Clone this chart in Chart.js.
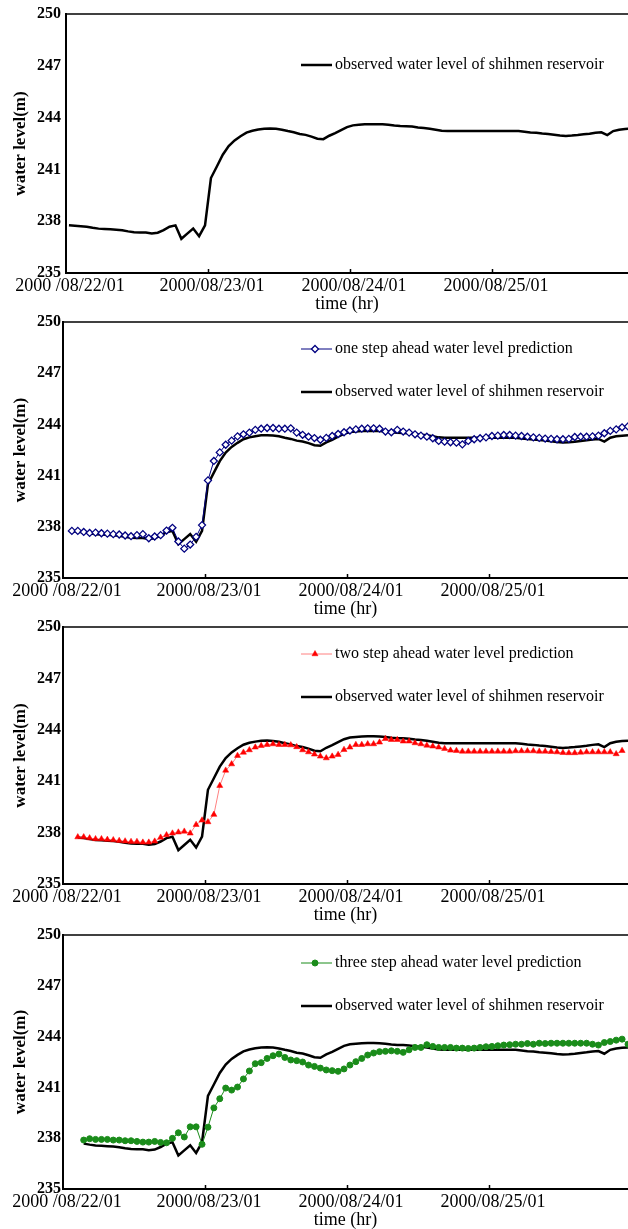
<!DOCTYPE html>
<html>
<head>
<meta charset="utf-8">
<script src="https://cdn.jsdelivr.net/npm/chart.js@4.4.1/dist/chart.umd.min.js"></script>
<style>
  body { margin: 0; background: #fff; width: 628px; height: 1229px; position: relative; overflow: hidden; }
  canvas { position: absolute; left: 0; }
</style>
</head>
<body>
<canvas id="panel1"></canvas>
<canvas id="panel2"></canvas>
<canvas id="panel3"></canvas>
<canvas id="panel4"></canvas>
<script>
// hourly series, first value sits at the given hour (0 = 2000/08/22/01)
const observedStart = 0.5;
const observed = [
  237.76, 237.74, 237.71, 237.68, 237.62, 237.57, 237.55, 237.53, 237.51, 237.47,
  237.41, 237.36, 237.35, 237.35, 237.29, 237.33, 237.48, 237.68, 237.76, 236.98,
  237.28, 237.58, 237.13, 237.76, 240.50, 241.17, 241.85, 242.35, 242.68, 242.92,
  243.13, 243.24, 243.31, 243.36, 243.37, 243.35, 243.30, 243.22, 243.15, 243.05,
  243.00, 242.90, 242.78, 242.75, 242.95, 243.10, 243.28, 243.45, 243.55, 243.58,
  243.61, 243.62, 243.62, 243.61, 243.58, 243.54, 243.51, 243.50, 243.48, 243.43,
  243.40, 243.36, 243.30, 243.24, 243.22, 243.22, 243.22, 243.22, 243.22, 243.22,
  243.22, 243.22, 243.22, 243.22, 243.22, 243.22, 243.22, 243.18, 243.14, 243.12,
  243.08, 243.05, 243.01, 242.97, 242.94, 242.96, 242.99, 243.03, 243.07, 243.12,
  243.15, 242.99, 243.22, 243.30, 243.34, 243.36
];

const oneStepStart = 1.5;
const oneStep = [
  237.76, 237.76, 237.70, 237.64, 237.66, 237.62, 237.60, 237.57, 237.55, 237.49,
  237.45, 237.51, 237.57, 237.33, 237.43, 237.51, 237.78, 237.94, 237.14, 236.72,
  236.96, 237.41, 238.10, 240.72, 241.86, 242.36, 242.81, 243.05, 243.30, 243.42,
  243.52, 243.68, 243.75, 243.79, 243.79, 243.75, 243.75, 243.77, 243.52, 243.39,
  243.28, 243.20, 243.10, 243.21, 243.32, 243.44, 243.54, 243.64, 243.71, 243.75,
  243.77, 243.77, 243.75, 243.58, 243.54, 243.68, 243.58, 243.52, 243.42, 243.34,
  243.28, 243.19, 243.03, 242.99, 242.95, 242.93, 242.83, 243.03, 243.13, 243.19,
  243.24, 243.32, 243.34, 243.38, 243.38, 243.34, 243.32, 243.28, 243.24, 243.21,
  243.17, 243.15, 243.13, 243.13, 243.15, 243.26, 243.28, 243.28, 243.30, 243.34,
  243.48, 243.62, 243.71, 243.83, 243.88
];

const twoStepStart = 2.5;
const twoStep = [
  237.74, 237.74, 237.68, 237.63, 237.63, 237.59, 237.57, 237.53, 237.50, 237.47,
  237.47, 237.43, 237.43, 237.49, 237.72, 237.86, 237.96, 238.02, 238.07, 237.96,
  238.46, 238.72, 238.62, 239.05, 240.74, 241.63, 242.00, 242.49, 242.68, 242.82,
  242.98, 243.07, 243.13, 243.17, 243.13, 243.13, 243.11, 243.00, 242.82, 242.70,
  242.57, 242.45, 242.35, 242.45, 242.55, 242.84, 242.98, 243.13, 243.13, 243.17,
  243.17, 243.27, 243.48, 243.42, 243.42, 243.33, 243.33, 243.23, 243.17, 243.09,
  243.04, 242.98, 242.90, 242.80, 242.78, 242.74, 242.74, 242.74, 242.74, 242.74,
  242.74, 242.74, 242.74, 242.74, 242.76, 242.76, 242.76, 242.76, 242.74, 242.74,
  242.72, 242.70, 242.66, 242.65, 242.65, 242.68, 242.70, 242.70, 242.70, 242.70,
  242.70, 242.59, 242.78
];

const threeStepStart = 3.5;
const threeStep = [
  237.89, 237.97, 237.93, 237.93, 237.93, 237.89, 237.89, 237.85, 237.85, 237.81,
  237.77, 237.77, 237.81, 237.75, 237.73, 237.99, 238.32, 238.07, 238.67, 238.67,
  237.64, 238.65, 239.79, 240.33, 240.96, 240.84, 241.02, 241.50, 241.97, 242.40,
  242.46, 242.71, 242.87, 242.97, 242.77, 242.62, 242.58, 242.50, 242.32, 242.24,
  242.14, 242.03, 241.99, 241.95, 242.09, 242.32, 242.52, 242.71, 242.91, 243.03,
  243.11, 243.13, 243.16, 243.13, 243.07, 243.22, 243.36, 243.36, 243.52, 243.42,
  243.36, 243.36, 243.36, 243.32, 243.32, 243.30, 243.32, 243.36, 243.40, 243.42,
  243.46, 243.50, 243.52, 243.55, 243.55, 243.59, 243.55, 243.61, 243.59, 243.61,
  243.61, 243.61, 243.61, 243.61, 243.61, 243.61, 243.55, 243.50, 243.65, 243.71,
  243.79, 243.85, 243.55
];

const xTickHours = [0, 24, 48, 72];
const xTickLabels = ["2000 /08/22/01", "2000/08/23/01", "2000/08/24/01", "2000/08/25/01"];
const yTicks = [235, 238, 241, 244, 247, 250];

const observedLabel = "observed water level of shihmen reservoir";
const oneStepLabel = "one step ahead water level prediction";
const twoStepLabel = "two step ahead water level prediction";
const threeStepLabel = "three step ahead water level prediction";

const SERIF = '"Liberation Serif", "Times New Roman", serif';

function toPoints(start, values, skip) {
  return values.slice(skip).map((v, i) => ({ x: start + skip + i, y: v }));
}

function observedSet(skip) {
  return {
    label: observedLabel,
    data: toPoints(observedStart, observed, skip),
    borderColor: "#000",
    borderWidth: 2.5,
    pointRadius: 0,
  };
}

// legend, top frame line and inner x tick marks
const framePlugin = {
  id: "frame",
  afterDraw(chart, args, opts) {
    const { ctx, chartArea: a } = chart;
    const x = chart.scales.x;
    ctx.save();
    ctx.strokeStyle = "#000";
    ctx.lineWidth = 1.5;
    ctx.beginPath();
    ctx.moveTo(a.left, a.top);
    ctx.lineTo(a.right + 2, a.top);
    ctx.stroke();
    xTickHours.slice(1).forEach((h) => {
      const px = Math.round(x.getPixelForValue(h)) + 0.5;
      ctx.beginPath();
      ctx.moveTo(px, a.bottom);
      ctx.lineTo(px, a.bottom - 4);
      ctx.stroke();
    });

    chart.data.datasets.forEach((ds, i) => {
      const y = a.top + opts.rows[i];
      ctx.strokeStyle = ds.borderColor;
      ctx.lineWidth = ds.borderWidth;
      ctx.beginPath();
      ctx.moveTo(301, y);
      ctx.lineTo(332, y);
      ctx.stroke();
      if (ds.pointRadius > 0) {
        ctx.fillStyle = ds.pointBackgroundColor;
        ctx.strokeStyle = ds.pointBorderColor;
        ctx.lineWidth = ds.pointBorderWidth;
        Chart.helpers.drawPoint(ctx, {
          pointStyle: ds.pointStyle,
          radius: ds.pointRadius,
          rotation: 0,
          borderWidth: ds.pointBorderWidth,
        }, 315, y);
      }
      ctx.fillStyle = "#000";
      ctx.font = "16px " + SERIF;
      ctx.textAlign = "left";
      ctx.textBaseline = "middle";
      ctx.fillText(ds.label, 335, y);
    });
    ctx.restore();
  },
};

function drawPanel(id, top, padTop, plotH, yWidth, xMax, datasets, rows) {
  const axisH = 42;
  const canvas = document.getElementById(id);
  canvas.width = 628;
  canvas.height = padTop + plotH + axisH;
  canvas.style.top = top + "px";

  new Chart(canvas.getContext("2d"), {
    type: "line",
    data: { datasets: datasets },
    options: {
      responsive: false,
      animation: false,
      devicePixelRatio: 1,
      layout: { autoPadding: false, padding: { top: padTop, right: 0, bottom: 0, left: 0 } },
      plugins: {
        legend: { display: false },
        tooltip: { enabled: false },
        frame: { rows: rows },
      },
      elements: { line: { tension: 0 } },
      scales: {
        x: {
          type: "linear",
          min: 0,
          max: xMax,
          afterBuildTicks: (scale) => {
            scale.ticks = xTickHours.map((h) => ({ value: h }));
          },
          afterFit: (scale) => {
            scale.height = axisH;
          },
          grid: { display: false, drawTicks: false },
          border: { display: true, color: "#000", width: 2 },
          ticks: {
            color: "#000",
            padding: 2,
            labelOffset: 4,
            maxRotation: 0,
            autoSkip: false,
            font: { family: SERIF, size: 18 },
            callback: (v) => xTickLabels[xTickHours.indexOf(v)],
          },
          title: {
            display: true,
            text: "time (hr)",
            color: "#000",
            padding: { top: 0, bottom: 0 },
            font: { family: SERIF, size: 18 },
          },
        },
        y: {
          min: 235,
          max: 250,
          afterBuildTicks: (scale) => {
            scale.ticks = yTicks.map((v) => ({ value: v }));
          },
          afterFit: (scale) => {
            scale.width = yWidth;
          },
          grid: { display: false, drawTicks: false },
          border: { display: true, color: "#000", width: 2 },
          ticks: {
            color: "#000",
            padding: yWidth - 61,
            font: { family: SERIF, size: 16, weight: "bold", lineHeight: 1 },
          },
          title: {
            display: true,
            text: "water level(m)",
            color: "#000",
            padding: { top: 10, bottom: 0 },
            font: { family: SERIF, size: 17, weight: "bold" },
          },
        },
      },
    },
    plugins: [framePlugin],
  });
}

drawPanel("panel1", 0, 14, 259, 66, 95, [observedSet(0)], [51]);

drawPanel("panel2", 310, 12, 256, 63, 95.5, [
  {
    label: oneStepLabel,
    data: toPoints(oneStepStart, oneStep, 0),
    borderColor: "#000080",
    borderWidth: 1,
    pointStyle: "rectRot",
    pointRadius: 3.5,
    pointBackgroundColor: "#fff",
    pointBorderColor: "#000080",
    pointBorderWidth: 1.3,
  },
  observedSet(1),
], [27, 70]);

drawPanel("panel3", 615, 12, 257, 63, 95.5, [
  {
    label: twoStepLabel,
    data: toPoints(twoStepStart, twoStep, 0),
    borderColor: "#ff8080",
    borderWidth: 1,
    pointStyle: "triangle",
    pointRadius: 3.5,
    pointBackgroundColor: "#ff0000",
    pointBorderColor: "#ff0000",
    pointBorderWidth: 0.5,
  },
  observedSet(2),
], [27, 70]);

drawPanel("panel4", 925, 8, 256, 63, 95.5, [
  {
    label: threeStepLabel,
    data: toPoints(threeStepStart, threeStep, 0),
    borderColor: "#1a8c1a",
    borderWidth: 1,
    pointStyle: "circle",
    pointRadius: 3,
    pointBackgroundColor: "#1a8c1a",
    pointBorderColor: "#1a8c1a",
    pointBorderWidth: 1,
  },
  observedSet(3),
], [28, 71]);
</script>
</body>
</html>
